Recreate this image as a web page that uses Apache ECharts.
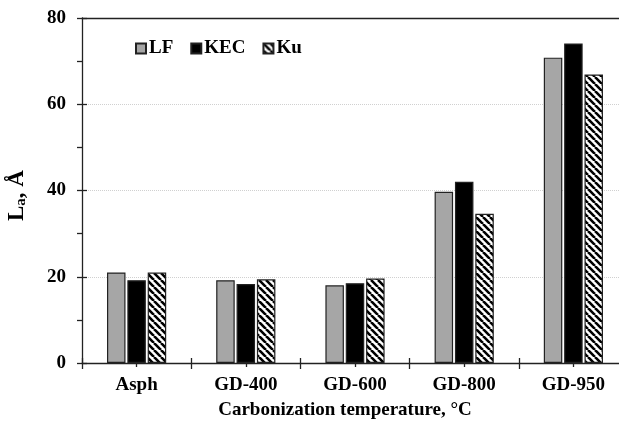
<!DOCTYPE html>
<html>
<head>
<meta charset="utf-8">
<script src="https://cdn.jsdelivr.net/npm/echarts@6/dist/echarts.min.js"></script>
<style>
  html, body { margin: 0; padding: 0; background: #fff; }
  #chart { width: 619px; height: 425px; }
</style>
</head>
<body>
<div id="chart"></div>
<script>
  // categories and values
  var categories = ['Asph', 'GD-400', 'GD-600', 'GD-800', 'GD-950'];
  var lfValues = [21.0, 19.2, 18.0, 39.7, 70.8];
  var kecValues = [19.2, 18.3, 18.5, 42.0, 74.1];
  var kuValues = [21.0, 19.4, 19.6, 34.6, 66.9];
  var yTicks = [0, 20, 40, 60, 80];

  var font = 'Liberation Serif';

  // diagonal hatching for Ku
  function hatch() {
    var s = 7
    var c = document.createElement('canvas')
    c.width = s; c.height = s
    var g = c.getContext('2d')
    g.fillStyle = '#fff'
    g.fillRect(0, 0, s, s)
    g.strokeStyle = '#000'
    g.lineWidth = 2.6
    g.beginPath()
    for (var k = -1; k <= 1; k++) {
      g.moveTo(k * s, 0)
      g.lineTo(k * s + s, s)
    }
    g.stroke()
    return c
  }

  var myChart = echarts.init(document.getElementById('chart'), null, { renderer: 'canvas' })

  var lineStyle = { color: '#222', width: 1.3 }

  var options = {
    animation: false,
    backgroundColor: '#fff',
    textStyle: { fontFamily: font, fontWeight: 'bold', color: '#000' },
    // plot runs past the right edge, like the original
    grid: { left: 82, top: 18, width: 546, bottom: 62, outerBoundsMode: 'none', containLabel: false },
    legend: {
      left: 130,
      top: 34,
      itemWidth: 10,
      itemHeight: 10,
      itemGap: 17,
      icon: 'rect',
      textStyle: { fontFamily: font, fontWeight: 'bold', fontSize: 19, color: '#000', padding: [0, 0, 0, -2] },
      data: ['LF', 'KEC', 'Ku']
    },
    xAxis: [
      {
        type: 'category',
        data: categories,
        position: 'bottom',
        name: 'Carbonization temperature, °C',
        nameLocation: 'middle',
        nameGap: 38,
        nameTextStyle: { fontFamily: font, fontWeight: 'bold', fontSize: 19, color: '#000', padding: [0, 20, 0, 0] },
        axisLine: { lineStyle: lineStyle },
        axisTick: { show: true, length: 6, lineStyle: lineStyle },
        axisLabel: { fontFamily: font, fontWeight: 'bold', fontSize: 19, color: '#000', margin: 13 },
        splitLine: { show: false }
      },
      {
        // inner half of the boundary ticks
        type: 'category',
        data: categories,
        position: 'bottom',
        axisLine: { show: false },
        axisTick: { show: true, inside: true, length: 5, lineStyle: lineStyle },
        axisLabel: { show: false },
        splitLine: { show: false }
      },
      {
        // small ticks under each group
        type: 'category',
        data: categories,
        position: 'bottom',
        axisLine: { show: false },
        axisTick: { show: true, alignWithLabel: true, length: 4, lineStyle: lineStyle },
        axisLabel: { show: false },
        splitLine: { show: false }
      },
      {
        // frame line on top
        type: 'category',
        data: categories,
        position: 'top',
        axisLine: { show: true, lineStyle: lineStyle },
        axisTick: { show: false },
        axisLabel: { show: false },
        splitLine: { show: false }
      }
    ],
    yAxis: [
      {
        type: 'value',
        min: yTicks[0],
        max: yTicks[yTicks.length - 1],
        interval: 20,
        position: 'left',
        name: '{l|L}{s|a}{l|, Å}',
        nameLocation: 'middle',
        nameGap: 53,
        nameRotate: 90,
        nameTextStyle: {
          padding: [0, 10, 0, 0],
          rich: {
            l: { fontFamily: font, fontWeight: 'bold', fontSize: 23, color: '#000' },
            s: { fontFamily: font, fontWeight: 'bold', fontSize: 15, color: '#000', verticalAlign: 'bottom', padding: [9, 0, 0, 0] }
          }
        },
        axisLine: { show: true, lineStyle: lineStyle },
        axisTick: { show: true, length: 5, lineStyle: lineStyle },
        minorTick: { show: true, splitNumber: 2, length: 5, lineStyle: lineStyle },
        axisLabel: { fontFamily: font, fontWeight: 'bold', fontSize: 19, color: '#000', margin: 16 },
        splitLine: { show: true, lineStyle: { color: '#d0d0d0', type: 'dotted', width: 1 } }
      },
      {
        // inner half of the major ticks
        type: 'value',
        min: yTicks[0],
        max: yTicks[yTicks.length - 1],
        interval: 20,
        position: 'left',
        axisLine: { show: false },
        axisTick: { show: true, inside: true, length: 5, lineStyle: lineStyle },
        axisLabel: { show: false },
        splitLine: { show: false }
      }
    ],
    series: [
      {
        name: 'LF',
        type: 'bar',
        data: lfValues,
        barWidth: 18.5,
        barGap: '10%',
        itemStyle: { color: '#a6a6a6', borderColor: '#222', borderWidth: 1.2 }
      },
      {
        name: 'KEC',
        type: 'bar',
        data: kecValues,
        barWidth: 18.5,
        barGap: '10%',
        itemStyle: { color: '#000', borderColor: '#222', borderWidth: 1.2 }
      },
      {
        name: 'Ku',
        type: 'bar',
        data: kuValues,
        barWidth: 18.5,
        barGap: '10%',
        itemStyle: { color: { image: hatch(), repeat: 'repeat' }, borderColor: '#222', borderWidth: 1.2 }
      }
    ]
  }
  myChart.setOption(options)
</script>
</body>
</html>
